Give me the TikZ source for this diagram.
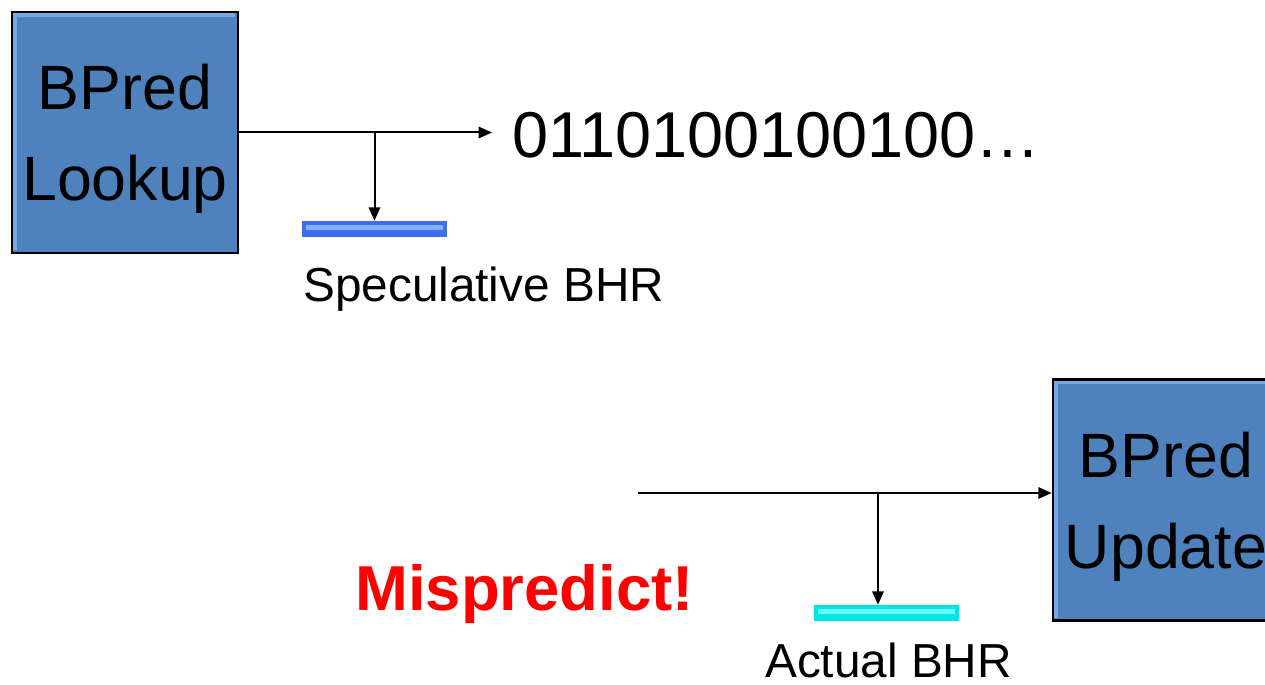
\documentclass[tikz,border=0pt]{standalone}
\usepackage{fontspec}
\setmainfont{Liberation Sans}
\usetikzlibrary{arrows.meta,positioning,calc}
\definecolor{boxblue}{HTML}{4F81BD}
\definecolor{boxlite}{HTML}{79A6E4}
\definecolor{specblue}{HTML}{3F6DEB}
\definecolor{speclite}{HTML}{82B0FF}
\definecolor{actcyan}{HTML}{00E6E6}
\definecolor{actlite}{HTML}{66FFFF}
\definecolor{mispred}{HTML}{FF0000}

\tikzset{
  bpred/.style={draw=black,line width=2pt,fill=boxblue,minimum width=169.5pt,minimum height=180.75pt,
    align=center,text depth=0pt,font=\fontsize{47}{68}\selectfont,
    path picture={\draw[boxlite,line width=2.5pt]
      ([shift={(2.2pt,2.2pt)}]path picture bounding box.south west) --
      ([shift={(2.2pt,-2.2pt)}]path picture bounding box.north west) --
      ([shift={(-2.2pt,-2.2pt)}]path picture bounding box.north east);}},
  bhrbar/.style={minimum width=108.75pt,minimum height=12pt,inner sep=0pt},
  barlite/.style={path picture={\fill[#1]
      ([shift={(3pt,-3pt)}]path picture bounding box.north west) rectangle
      ([shift={(-3pt,5pt)}]path picture bounding box.south east);}},
  lbl/.style={inner sep=0pt,font=\fontsize{35.8}{42}\selectfont},
  flow/.style={line width=1.5pt,-{Triangle[length=10pt,width=8.5pt]}}
}

\begin{document}
\begin{tikzpicture}[x=0.75pt,y=-0.75pt]
  \useasboundingbox (0,0) rectangle (1265,685);
  % lookup side: box, predicted bits and the speculative history
  \node[bpred] (lookup) at (125,132.5) {BPred\\Lookup};
  \node[anchor=base west,inner xsep=15pt,inner ysep=0pt,font=\fontsize{48.6}{56}\selectfont] (bits) at (492,157) {0110100100100\ldots};
  \node[bhrbar,fill=specblue,barlite=speclite] (specbar) at (374.5,229) {};
  \node[lbl,anchor=base west] (speclbl) at (303,301) {Speculative BHR};
  \draw[flow] (lookup.east) -- (lookup.east -| bits.west);
  \draw[flow] (specbar.north |- lookup.east) -- (specbar.north);
  % update side: box, actual history and the mispredict note
  \node[bpred] (update) at (1166,500) {BPred\\Update};
  \coordinate (src) at (638,493);
  \coordinate (tap) at (878,493);
  \node[bhrbar,fill=actcyan,barlite=actlite] (actbar) at (886.5,613) {};
  \node[lbl,anchor=base west] (actlbl) at (765,677) {Actual BHR};
  \node[anchor=base west,inner sep=0pt,text=mispred,font=\fontsize{47.6}{56}\selectfont\bfseries] (mis) at (355,610) {Mispredict!};
  \draw[flow] (src) -- (src -| update.west);
  \draw[flow] (tap) -- (tap |- actbar.north);
\end{tikzpicture}
\end{document}
